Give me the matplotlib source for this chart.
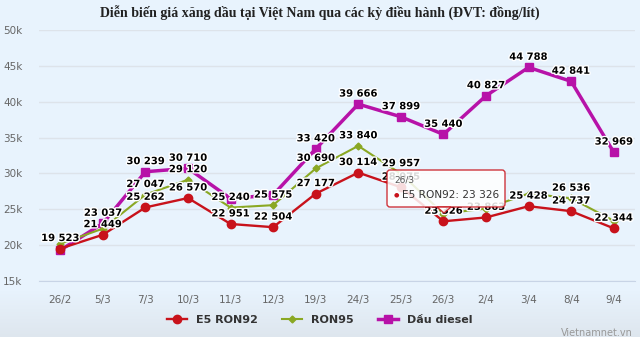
import numpy as np
import matplotlib.pyplot as plt
import matplotlib.patheffects as pe
from matplotlib.patches import FancyBboxPatch, Polygon

# data (dong/litre)
dates = ['26/2', '5/3', '7/3', '10/3', '11/3', '12/3', '19/3', '24/3', '25/3',
         '26/3', '2/4', '3/4', '8/4', '9/4']
e5_ron92 = [19523, 21449, 25262, 26570, 22951, 22504, 27177, 30114, 28075,
            23326, 23863, 25428, 24737, 22344]
ron95 = [20200, 22300, 27047, 29120, 25240, 25575, 30690, 33840, 29957,
         24400, 25100, 27200, 26536, 23400]
diesel = [19300, 23037, 30239, 30710, 26500, 27000, 33420, 39666, 37899,
          35440, 40827, 44788, 42841, 32969]
# labels hidden by the chart (overlap)
hide_e5 = []
hide_95 = [0, 1, 9, 10, 11, 13]
hide_d = [0, 4, 5]

W, H = 640, 337
fig = plt.figure(figsize=(W / 100, H / 100), dpi=100)

# background gradient
bg = fig.add_axes([0, 0, 1, 1], zorder=-10)
grad = np.ones((H, 1, 3))
top = np.array([232, 243, 253]) / 255
bot = np.array([222, 230, 238]) / 255
for i in range(H):
    t = max(0, (i - 290) / (H - 290))
    grad[i, 0] = top * (1 - t) + bot * t
bg.imshow(grad, aspect='auto', extent=[0, 1, 0, 1])
bg.axis('off')

ax = fig.add_axes([39 / W, 1 - 281 / H, (635 - 39) / W, (281 - 30) / H])
ax.set_facecolor('none')
x = np.arange(len(dates))

c_e5 = '#c8121b'
c_95 = '#8aa823'
c_d = '#b712a8'

ax.plot(x, diesel, color=c_d, lw=2.5, marker='s', ms=6, label='Dầu diesel', zorder=3)
ax.plot(x, ron95, color=c_95, lw=1.5, marker='D', ms=3.5, label='RON95', zorder=4)
ax.plot(x, e5_ron92, color=c_e5, lw=1.7, marker='o', ms=6, label='E5 RON92', zorder=5)

outline = [pe.withStroke(linewidth=2, foreground='white')]


def fmt(v):
    return f'{v:,}'.replace(',', ' ')


for vals, hide in [(e5_ron92, hide_e5), (ron95, hide_95), (diesel, hide_d)]:
    for i, v in enumerate(vals):
        if i in hide:
            continue
        ax.annotate(fmt(v), (x[i], v), xytext=(0, 4), textcoords='offset points',
                    ha='center', va='bottom', fontsize=7.2, fontweight='bold',
                    color='black', path_effects=outline, zorder=6)

ax.set_xlim(-0.5, len(dates) - 0.5)
ax.set_ylim(15000, 50000)
ax.set_yticks(range(15000, 50001, 5000))
ax.set_yticklabels([f'{v // 1000}k' for v in range(15000, 50001, 5000)])
ax.set_xticks(x)
ax.set_xticklabels(dates)
ax.tick_params(length=0, colors='#666666', labelsize=7.5)
ax.tick_params(axis='x', pad=10)
ax.tick_params(axis='y', pad=12)
ax.grid(axis='y', color='#dde3ea', lw=1)
for s in ['top', 'right', 'left']:
    ax.spines[s].set_visible(False)
ax.spines['bottom'].set_color('#c8d4e6')

# tooltip
tip_y = e5_ron92[9]
box = FancyBboxPatch((387, H - 207), 118, 37, boxstyle='round,pad=0,rounding_size=3',
                     transform=None, facecolor='white', edgecolor=c_e5, lw=1,
                     alpha=0.85, zorder=20)
fig.patches.append(box)
ptr = Polygon([[437, H - 207], [451, H - 207], [444, H - 213]], closed=True,
              transform=None, facecolor='white', edgecolor=c_e5, lw=1, alpha=0.85,
              zorder=20)
fig.patches.append(ptr)
fig.text(394 / W, 1 - 180 / H, dates[9], fontsize=6.5, color='#555555', va='center', zorder=21)
fig.text(394 / W, 1 - 195 / H, '●', fontsize=4.5, color=c_e5, va='center', zorder=21)
fig.text(402 / W, 1 - 195 / H, 'E5 RON92: ' + fmt(tip_y), fontsize=7.6, color='#333333',
         va='center', zorder=21)

fig.text(0.5, 1 - 13 / H, 'Diễn biến giá xăng dầu tại Việt Nam qua các kỳ điều hành (ĐVT: đồng/lít)',
         ha='center', va='center', fontsize=10, fontweight='bold',
         family='Liberation Serif', color='#222222')

h, l = ax.get_legend_handles_labels()
leg = fig.legend(h[::-1], l[::-1], loc='center', bbox_to_anchor=(0.5, 1 - 320 / H),
                 ncol=3, frameon=False, handlelength=1.8, columnspacing=2.2,
                 prop={'weight': 'bold', 'size': 8})
for t in leg.get_texts():
    t.set_color('#333333')

fig.text(633 / W, 1 - 333 / H, 'Vietnamnet.vn', ha='right', va='center', fontsize=7,
         color='#999999')

fig.savefig('out.png', dpi=100)
